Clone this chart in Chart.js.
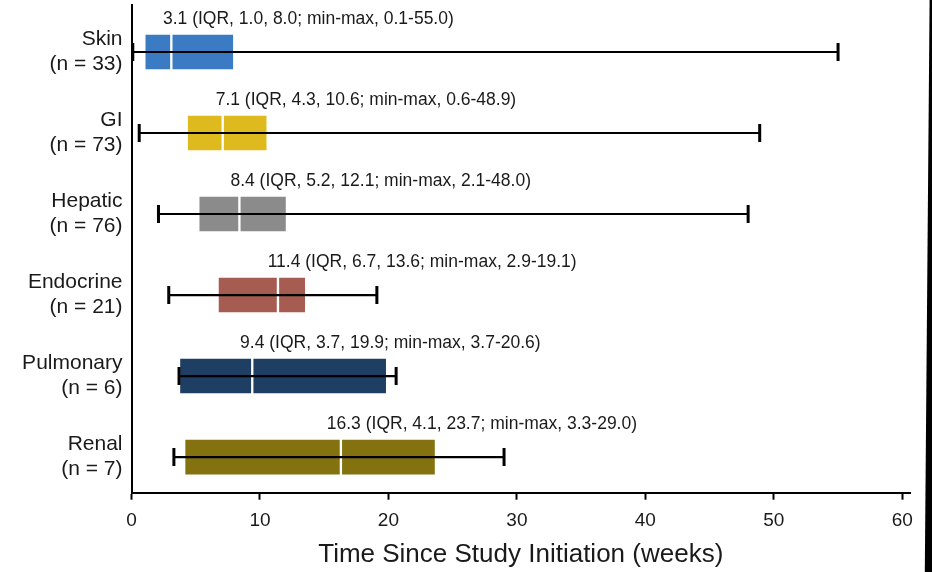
<!DOCTYPE html>
<html>
<head>
<meta charset="utf-8">
<script src="https://cdn.jsdelivr.net/npm/chart.js@4.4.1/dist/chart.umd.min.js"></script>
<style>
    html, body { margin: 0; padding: 0; background: #fff; }
    #wrap { position: relative; width: 932px; height: 572px; }
    #edge {
        position: absolute; top: 0; right: 0; width: 8px; height: 572px; background: #000;
        clip-path: polygon(70% 0, 100% 0, 100% 100%, 10% 100%);
    }
</style>
</head>
<body>
<div id="wrap">
    <canvas id="chart" width="932" height="572"></canvas>
    <div id="edge"></div>
</div>
<script>
// Data (weeks)
const categories = ['Skin', 'GI', 'Hepatic', 'Endocrine', 'Pulmonary', 'Renal'];
const counts = [33, 73, 76, 21, 6, 7];
const medians = [3.1, 7.1, 8.4, 11.4, 9.4, 16.3];
const q1s = [1.0, 4.3, 5.2, 6.7, 3.7, 4.1];
const q3s = [8.0, 10.6, 12.1, 13.6, 19.9, 23.7];
const mins = [0.1, 0.6, 2.1, 2.9, 3.7, 3.3];
const maxs = [55.0, 48.9, 48.0, 19.1, 20.6, 29.0];
const xTicks = [0, 10, 20, 30, 40, 50, 60];

const boxColors = ['#3a7bc4', '#dfba1f', '#8b8b8b', '#a75c52', '#1e3e64', '#84720f'];
// where each summary line starts, in axis units
const noteStart = [2.45, 6.55, 7.7, 10.6, 8.45, 15.2];

const fmt = v => v.toFixed(1);

const lowerHalf = categories.map((c, i) => ({ x: [q1s[i], medians[i]], y: i }));
const upperHalf = categories.map((c, i) => ({ x: [medians[i], q3s[i]], y: i }));

const whiskers = categories.map((c, i) => ({
    type: 'line',
    data: [{ x: mins[i], y: i }, { x: maxs[i], y: i }],
    borderColor: '#000',
    borderWidth: 2.2,
    pointStyle: 'line',
    pointRotation: 90,
    pointRadius: 9,
    pointBorderWidth: 3,
    pointBorderColor: '#000',
    order: 0
}));

const boxDefaults = {
    type: 'bar',
    indexAxis: 'y',
    backgroundColor: boxColors,
    borderColor: '#fff',
    borderWidth: 1.5,
    borderSkipped: false,
    barThickness: 37,
    grouped: false,
    order: 1
};

const notesPlugin = {
    id: 'notes',
    afterDatasetsDraw(chart) {
        const ctx = chart.ctx;
        const xs = chart.scales.x, ys = chart.scales.y;
        ctx.save();
        ctx.font = '17.5px "Liberation Sans", Arial, sans-serif';
        ctx.fillStyle = '#1a1a1a';
        ctx.textAlign = 'left';
        ctx.textBaseline = 'middle';
        categories.forEach((c, i) => {
            const txt = `${fmt(medians[i])} (IQR, ${fmt(q1s[i])}, ${fmt(q3s[i])}; min-max, ${fmt(mins[i])}-${fmt(maxs[i])})`;
            ctx.fillText(txt, xs.getPixelForValue(noteStart[i]), ys.getPixelForValue(i) - 33);
        });
        ctx.restore();
    }
};

new Chart(document.getElementById('chart'), {
    data: {
        datasets: [
            ...whiskers,
            { ...boxDefaults, data: lowerHalf },
            { ...boxDefaults, data: upperHalf }
        ]
    },
    options: {
        responsive: false,
        animation: false,
        layout: { autoPadding: false, padding: { top: 5, right: 22, left: 0, bottom: 0 } },
        plugins: {
            legend: { display: false },
            tooltip: { enabled: false }
        },
        scales: {
            x: {
                type: 'linear',
                min: 0,
                max: 60.6,
                offset: false,
                afterBuildTicks: s => { s.ticks = xTicks.map(v => ({ value: v })); },
                afterFit: s => { s.height = 79.3; s.paddingRight = 0; s.paddingLeft = 0; },
                border: { display: true, color: '#000', width: 2 },
                grid: { drawOnChartArea: false, drawTicks: true, tickLength: 7, tickColor: '#000', tickWidth: 2 },
                ticks: {
                    padding: 10,
                    color: '#1a1a1a',
                    font: { family: '"Liberation Sans", Arial, sans-serif', size: 19 }
                },
                title: {
                    display: true,
                    text: 'Time Since Study Initiation (weeks)',
                    color: '#1a1a1a',
                    font: { family: '"Liberation Sans", Arial, sans-serif', size: 26 },
                    padding: { top: 2, bottom: 2 }
                }
            },
            y: {
                type: 'linear',
                reverse: true,
                min: -0.58,
                max: 5.44,
                offset: false,
                afterBuildTicks: s => { s.ticks = categories.map((c, i) => ({ value: i })); },
                afterFit: s => { s.width = 131.5; s.paddingTop = 0; s.paddingBottom = 0; },
                border: { display: true, color: '#000', width: 2 },
                grid: { display: false },
                ticks: {
                    padding: 1,
                    color: '#1a1a1a',
                    font: { family: '"Liberation Sans", Arial, sans-serif', size: 21 },
                    callback: (v, i) => [categories[v], `(n = ${counts[v]})`]
                }
            }
        }
    },
    plugins: [notesPlugin]
});
</script>
</body>
</html>
